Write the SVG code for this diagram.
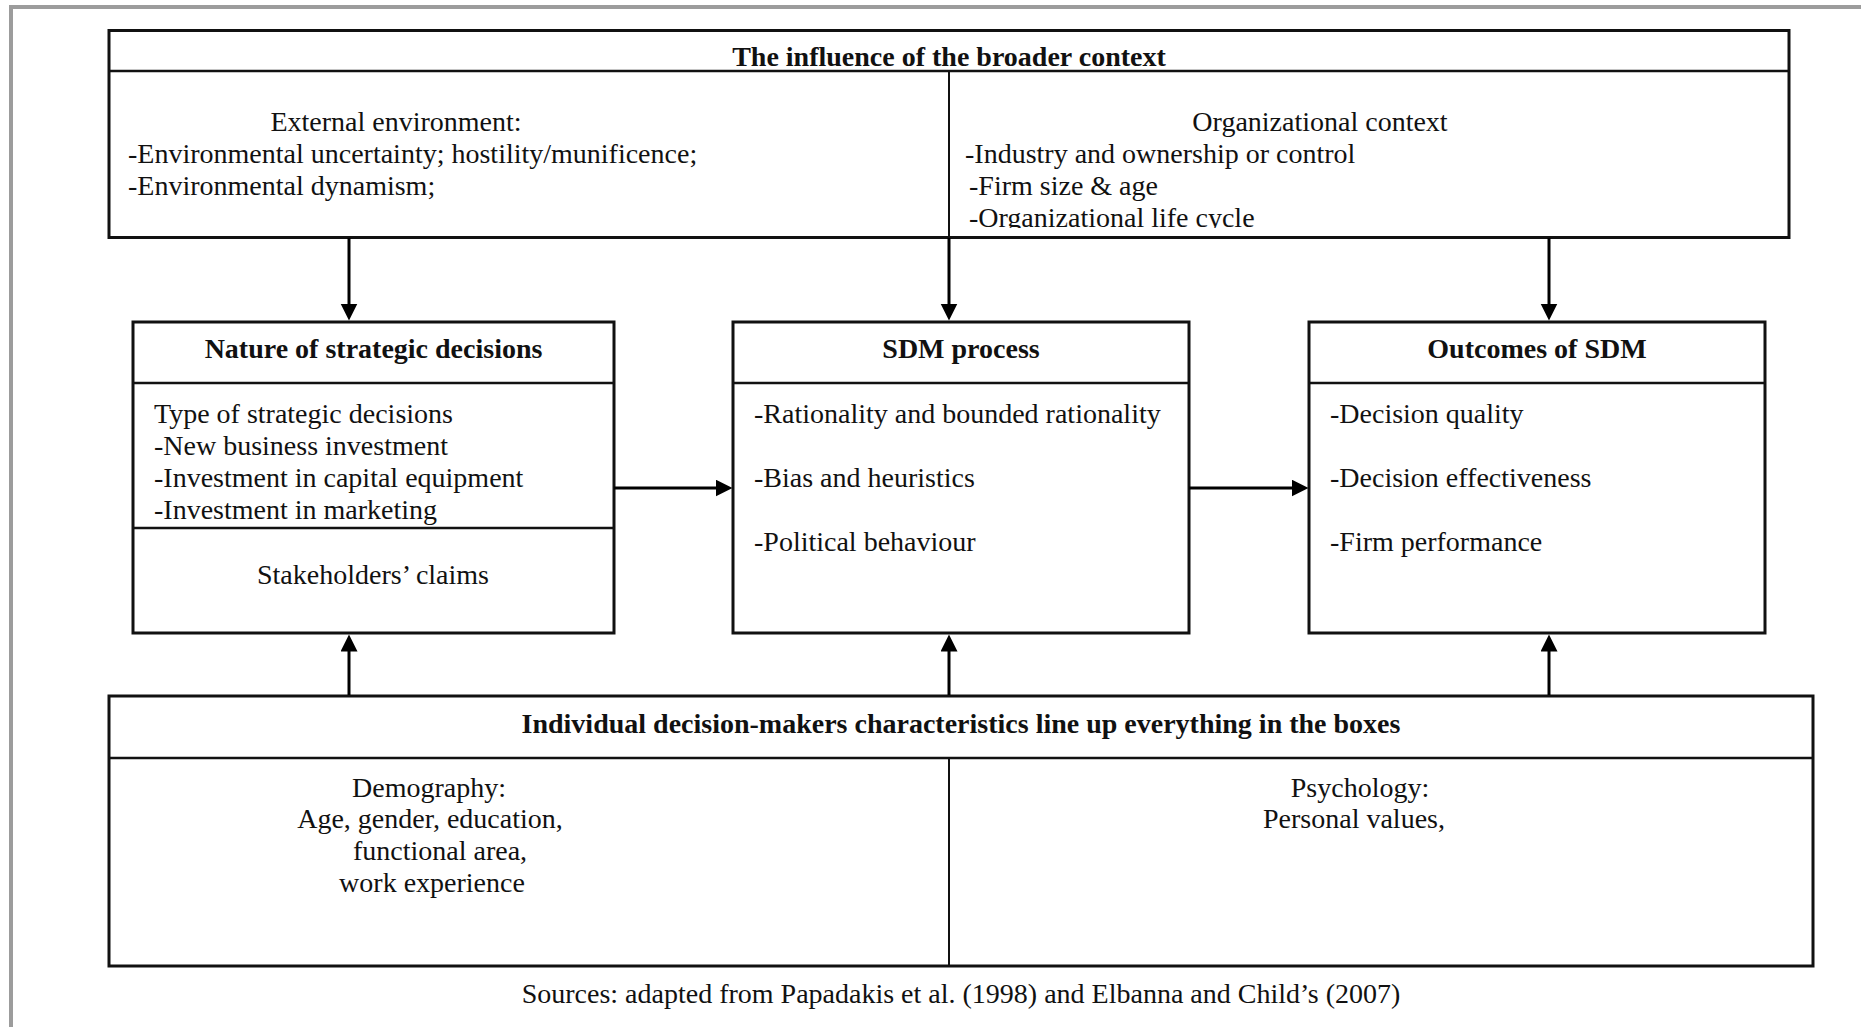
<svg xmlns="http://www.w3.org/2000/svg" width="1861" height="1027" viewBox="0 0 1861 1027">
  <style>
    .frame { fill: none; stroke: #9c9c9c; stroke-width: 4; }
    .box { fill: #ffffff; stroke: #111111; stroke-width: 3; }
    .rule { stroke: #111111; stroke-width: 2.5; fill: none; }
    .split { stroke: #111111; stroke-width: 2; fill: none; }
    .link { stroke: #000000; stroke-width: 3; fill: none; marker-end: url(#head); }
    text { font-family: "Liberation Serif", "Times New Roman", serif; font-size: 28px; fill: #111111; }
    .title { font-weight: bold; text-anchor: middle; }
    .mid { text-anchor: middle; }
  </style>
  <defs>
    <marker id="head" markerUnits="userSpaceOnUse" markerWidth="20" markerHeight="20" refX="0.5" refY="8.5" orient="auto">
      <path d="M0,0 L17,8.5 L0,17 Z" fill="#000000"/>
    </marker>
    <clipPath id="orgClip">
      <rect x="950" y="72" width="838" height="156"/>
    </clipPath>
  </defs>

  <rect width="1861" height="1027" fill="#ffffff"/>
  <!-- page frame: top and left edges only -->
  <path class="frame" d="M11,1027 L11,7 L1861,7"/>

  <!-- broader context -->
  <g id="context">
    <rect class="box" x="109" y="30.5" width="1680" height="207"/>
    <line class="rule" x1="109" y1="71" x2="1789" y2="71"/>
    <line class="split" x1="949" y1="71" x2="949" y2="237"/>
    <text class="title" x="949" y="66">The influence of the broader context</text>
    <text class="mid" x="396" y="131">External environment:</text>
    <text x="128" y="163">-Environmental uncertainty; hostility/munificence;</text>
    <text x="128" y="195">-Environmental dynamism;</text>
    <text class="mid" x="1320" y="131">Organizational context</text>
    <text x="965" y="163">-Industry and ownership or control</text>
    <text x="969" y="195">-Firm size &amp; age</text>
    <text x="969" y="227" clip-path="url(#orgClip)">-Organizational life cycle</text>
  </g>

  <!-- nature of strategic decisions -->
  <g id="nature">
    <rect class="box" x="133" y="322" width="481" height="311"/>
    <line class="rule" x1="133" y1="383" x2="614" y2="383"/>
    <line class="rule" x1="133" y1="528" x2="614" y2="528"/>
    <text class="title" x="373.5" y="358">Nature of strategic decisions</text>
    <text x="154" y="423">Type of strategic decisions</text>
    <text x="154" y="455">-New business investment</text>
    <text x="154" y="487">-Investment in capital equipment</text>
    <text x="154" y="519">-Investment in marketing</text>
    <text class="mid" x="373" y="584">Stakeholders’ claims</text>
  </g>

  <!-- SDM process -->
  <g id="process">
    <rect class="box" x="733" y="322" width="456" height="311"/>
    <line class="rule" x1="733" y1="383" x2="1189" y2="383"/>
    <text class="title" x="961" y="358">SDM process</text>
    <text x="754" y="423">-Rationality and bounded rationality</text>
    <text x="754" y="487">-Bias and heuristics</text>
    <text x="754" y="551">-Political behaviour</text>
  </g>

  <!-- outcomes -->
  <g id="outcomes">
    <rect class="box" x="1309" y="322" width="456" height="311"/>
    <line class="rule" x1="1309" y1="383" x2="1765" y2="383"/>
    <text class="title" x="1537" y="358">Outcomes of SDM</text>
    <text x="1330" y="423">-Decision quality</text>
    <text x="1330" y="487">-Decision effectiveness</text>
    <text x="1330" y="551">-Firm performance</text>
  </g>

  <!-- individual decision-makers -->
  <g id="individual">
    <rect class="box" x="109" y="696" width="1704" height="270"/>
    <line class="rule" x1="109" y1="758" x2="1813" y2="758"/>
    <line class="split" x1="949" y1="758" x2="949" y2="966"/>
    <text class="title" x="961" y="733">Individual decision-makers characteristics line up everything in the boxes</text>
    <text class="mid" x="429" y="797">Demography:</text>
    <text class="mid" x="430" y="828">Age, gender, education,</text>
    <text class="mid" x="440" y="860">functional area,</text>
    <text class="mid" x="432" y="892">work experience</text>
    <text class="mid" x="1360" y="797">Psychology:</text>
    <text class="mid" x="1354" y="828">Personal values,</text>
  </g>

  <text id="source" class="mid" x="961" y="1003">Sources: adapted from Papadakis et al. (1998) and Elbanna and Child’s (2007)</text>

  <!-- connectors -->
  <g id="connectors">
    <line class="link" x1="349" y1="238" x2="349" y2="304"/>
    <line class="link" x1="949" y1="238" x2="949" y2="304"/>
    <line class="link" x1="1549" y1="238" x2="1549" y2="304"/>
    <line class="link" x1="614" y1="488" x2="716" y2="488"/>
    <line class="link" x1="1189" y1="488" x2="1292" y2="488"/>
    <line class="link" x1="349" y1="695" x2="349" y2="651"/>
    <line class="link" x1="949" y1="695" x2="949" y2="651"/>
    <line class="link" x1="1549" y1="695" x2="1549" y2="651"/>
  </g>
</svg>
